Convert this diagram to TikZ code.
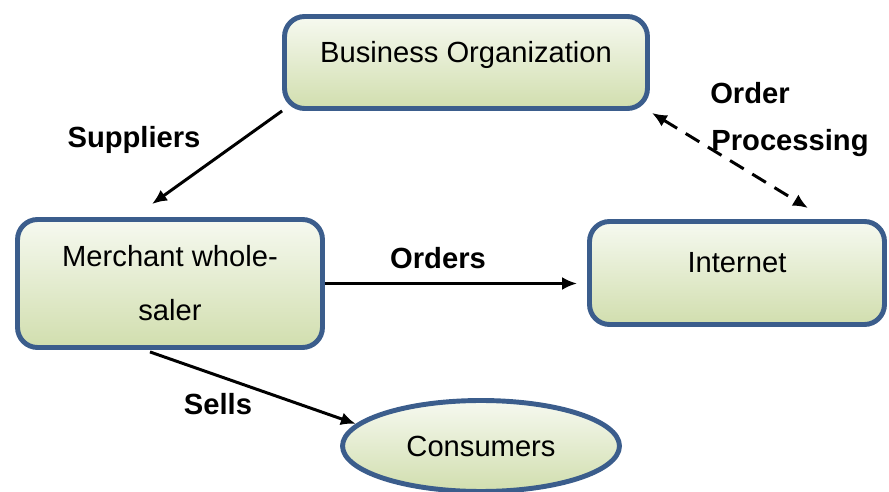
\documentclass[tikz,border=0pt]{standalone}
\usepackage{fontspec}
\setmainfont{Liberation Sans}
\usetikzlibrary{calc}
\usetikzlibrary{arrows.meta}
\usetikzlibrary{shapes.geometric}
\usetikzlibrary{positioning}

\definecolor{boxline}{RGB}{59,93,140}
\definecolor{boxtop}{RGB}{246,249,240}
\definecolor{boxbottom}{RGB}{209,222,174}

\begin{document}
\begin{tikzpicture}[x=0.02cm, y=-0.02cm,
  box/.style={draw=boxline, line width=2.8pt, rounded corners=0.4cm,
    top color=boxtop, bottom color=boxbottom, inner sep=0pt,
    font=\fontsize{16.6}{20}\selectfont},
  oval/.style={ellipse, draw=boxline, line width=2.8pt,
    top color=boxtop, bottom color=boxbottom, inner sep=0pt,
    font=\fontsize{16.6}{20}\selectfont},
  arr/.style={-{Latex[length=0.3cm, width=0.26cm]}, line width=1.7pt},
  lbl/.style={font=\bfseries\fontsize{16.6}{20}\selectfont, inner sep=0pt}]

  \useasboundingbox (0,0) rectangle (889,492);
  \clip (0,0) rectangle (889,492);

  % Boxes
  \node[box, minimum width=7.26cm, text height=0.92cm, text depth=0.92cm]  (busorg)    at (466,62.5)  {Business Organization};
  \node[box, minimum width=6.1cm, minimum height=2.56cm, align=center,
        font=\fontsize{16.6}{30.7}\selectfont]                            (merchant)  at (170,283.5) {Merchant whole-\\saler};
  \node[box, minimum width=5.9cm, text height=1.03cm, text depth=1.03cm]   (internet)  at (737,273)   {Internet};
  \node[oval, minimum width=5.54cm, minimum height=1.82cm]                 (consumers) at (481,446)   {Consumers};

  % Connectors
  \draw[arr]                  (busorg.south west) -- ($(merchant.north)+(-18,-13)$);
  \draw[arr, shorten >=0.2cm] (merchant.east) -- (merchant.east -| internet.west);
  \draw[arr]                  ($(merchant.south)+(-20,2)$) -- (consumers.170);
  \draw[{Latex[length=0.3cm, width=0.26cm]}-{Latex[length=0.3cm, width=0.26cm]},
        line width=1.7pt, dash pattern=on 0.32cm off 0.2cm]
                              ($(busorg.south east)+(2,2)$) -- ($(internet.north)+(71,-11)$);

  % Labels
  \node[lbl] (lblsup)   at (134,140) {Suppliers};
  \node[lbl] (lblord)   at (438,258) {Orders};
  \node[lbl] (lblsel)   at (218,404) {Sells};
  \node[lbl] (lblorder) at (750,93)  {Order};
  \node[lbl] (lblproc)  at (790,143) {Processing};
\end{tikzpicture}
\end{document}
